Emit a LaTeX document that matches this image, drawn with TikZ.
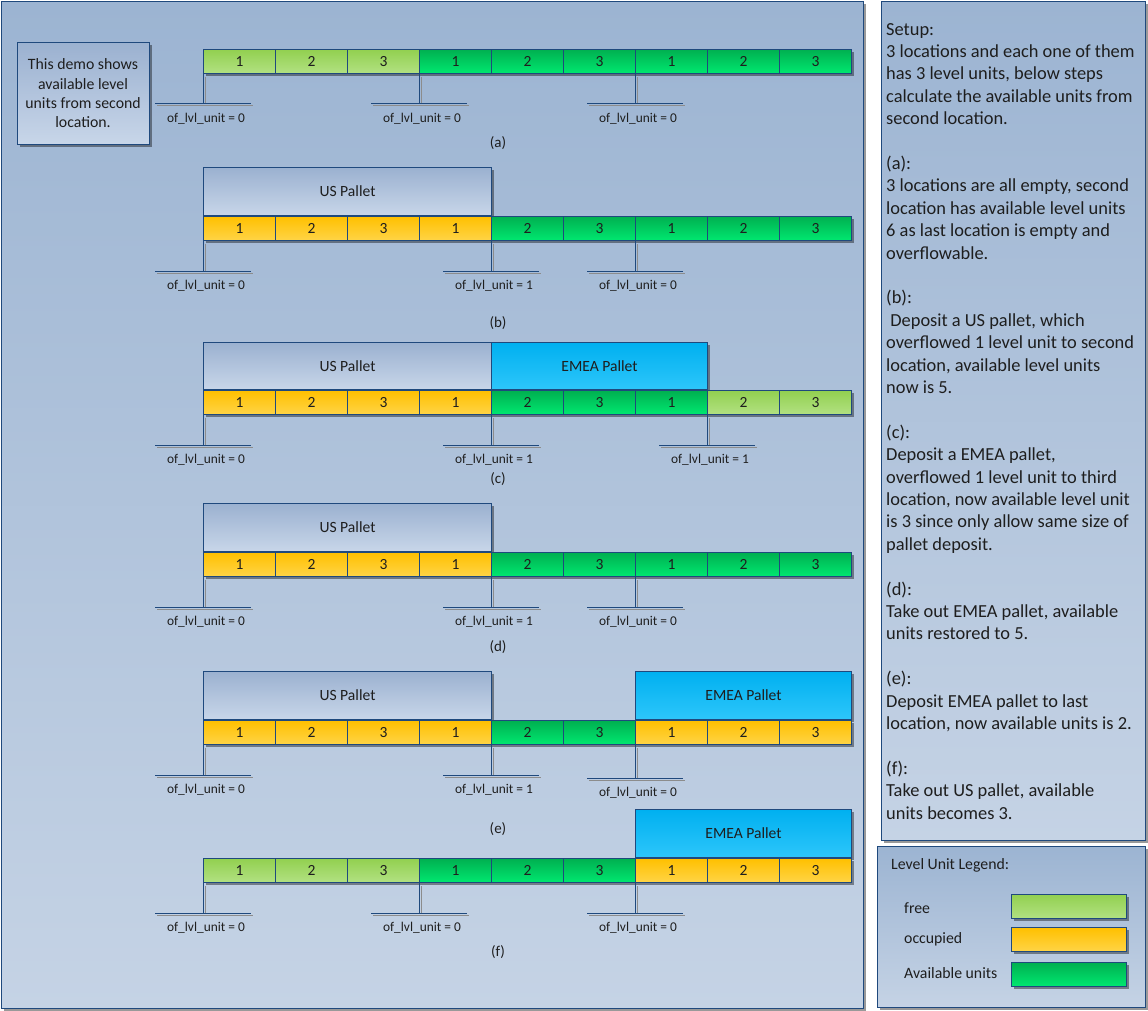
\documentclass[tikz,border=0pt]{standalone}
\usepackage{fontspec}
\setmainfont{Carlito}
\usepackage{tikz}
\usetikzlibrary{positioning, shadows, calc}
\usepackage{xcolor}
\definecolor{edge}{RGB}{31,73,125}
\definecolor{ink}{RGB}{30,30,30}
\definecolor{Ftop}{RGB}{146,208,80}
\definecolor{Fbot}{RGB}{178,225,130}
\definecolor{Atop}{RGB}{0,176,80}
\definecolor{Abot}{RGB}{0,232,112}
\definecolor{Otop}{RGB}{255,192,0}
\definecolor{Obot}{RGB}{255,212,70}
\definecolor{Etop}{RGB}{0,176,240}
\definecolor{Ebot}{RGB}{45,198,250}
\definecolor{Utop}{RGB}{155,177,208}
\definecolor{Ubot}{RGB}{200,214,233}
\definecolor{bgtop}{RGB}{156,180,210}
\definecolor{bgbot}{RGB}{197,211,229}

\begin{document}
\begin{tikzpicture}[
  x=1pt, y=-1pt,
  every node/.style={text=ink},
  sdw/.style={drop shadow={shadow xshift=2.5pt, shadow yshift=-2.5pt,
    fill=black, opacity=0.4}},
  panel/.style={draw=edge, line width=1.4pt, top color=bgtop, bottom color=bgbot,
    anchor=north west, inner sep=0pt, sdw},
  cell/.style={draw=edge, line width=1pt, minimum width=72pt, minimum height=24pt,
    inner sep=0pt, anchor=north west, font=\fontsize{15.5}{17}\selectfont, sdw},
  unit/.style={cell, top color=#1top, bottom color=#1bot},
  pallet/.style={draw=edge, line width=1pt, minimum height=48pt, inner sep=0pt,
    anchor=south west, font=\fontsize{15.6}{18}\selectfont, sdw},
  uspal/.style={pallet, minimum width=288pt, top color=Utop, bottom color=Ubot},
  emea/.style={pallet, minimum width=216pt, top color=Etop, bottom color=Ebot},
  mline/.style={draw=edge, line width=1pt},
  mshadow/.style={draw=black!45, line width=1pt},
  mlabel/.style={font=\fontsize{13.4}{15}\selectfont, inner sep=0pt},
  caption/.style={font=\fontsize{15}{17}\selectfont, inner sep=0pt},
  swatch/.style={draw=edge, line width=1pt, minimum width=115pt, minimum height=24pt,
    inner sep=0pt, anchor=north west, sdw},
  legtext/.style={font=\fontsize{15.8}{18}\selectfont, anchor=west, inner sep=0pt}
]
\useasboundingbox (0,0) rectangle (1148,1011);
\fill[white] (0,0) rectangle (1148,1011);

% panels
\node[panel, minimum width=862pt, minimum height=1007pt] (stage) at (1,1) {};
\node[panel, minimum width=264pt, minimum height=839pt] (notes) at (881,1) {};
\node[panel, minimum width=268pt, minimum height=161pt] (legend) at (877,846) {};

\node[draw=edge, line width=1pt, top color=Utop, bottom color=Ubot, sdw,
  minimum width=132pt, minimum height=102pt, inner sep=0pt, align=center,
  font=\fontsize{15.8}{19.3}\selectfont] (demo) at (83,93.5)
  {This demo shows\\available level\\units from second\\location.};

% pallets
\node[uspal] (pb) at (203,216) {US Pallet};
\node[uspal, minimum height=47pt] (pc) at (203,390) {US Pallet};
\node[emea, minimum height=47pt] (ec) at (491,390) {EMEA Pallet};
\node[uspal] (pd) at (203,552) {US Pallet};
\node[uspal] (pe) at (203,720) {US Pallet};
\node[emea] (ee) at (635,720) {EMEA Pallet};
\node[emea] (ef) at (635,858) {EMEA Pallet};

% level units
\foreach \r/\y/\cols in {a/49/{F,F,F,A,A,A,A,A,A}, b/216/{O,O,O,O,A,A,A,A,A},
    c/390/{O,O,O,O,A,A,A,F,F}, d/552/{O,O,O,O,A,A,A,A,A},
    e/720/{O,O,O,O,A,A,O,O,O}, f/858/{F,F,F,A,A,A,O,O,O}}{
  \foreach \c [count=\i] in \cols {
    \pgfmathtruncatemacro\lvl{mod(\i-1,3)+1}
    \node[unit=\c] (\r\i) at ({203+72*(\i-1)},\y) {\lvl};
  }
}

% overflow markers
\foreach \r/\k/\v/\dy in {a/1/0/0, a/4/0/0, a/7/0/0, b/1/0/0, b/5/1/0, b/7/0/0,
    c/1/0/0, c/5/1/0, c/8/1/0, d/1/0/0, d/5/1/0, d/7/0/0,
    e/1/0/0, e/5/1/0, e/7/0/3, f/1/0/0, f/4/0/0, f/7/0/0}{
  \coordinate (f\r\k) at ($(\r\k.south west)+(0,30+\dy)$);
  \draw[mshadow] ($(\r\k.south west)+(2,3)$) -- ($(f\r\k)+(2,0)$)
    ($(f\r\k)+(-46,2)$) -- ($(f\r\k)+(50,2)$);
  \draw[mline] (\r\k.south west) -- (f\r\k)
    ($(f\r\k)+(-48,0)$) -- ($(f\r\k)+(48,0)$);
  \node[mlabel] (l\r\k) at ($(f\r\k)+(3,15)$) {of\_lvl\_unit = \v};
}

\node[caption] (capa) at (498,143) {(a)};
\node[caption] (capb) at (498,323) {(b)};
\node[caption] (capc) at (498,479) {(c)};
\node[caption] (capd) at (498,647) {(d)};
\node[caption] (cape) at (498,829) {(e)};
\node[caption] (capf) at (498,952) {(f)};

% step notes
\node[anchor=north west, inner sep=0pt, align=left,
  font=\fontsize{18.4}{22.4}\selectfont] (steps) at (886,23)
  {Setup:\\3 locations and each one of them\\has 3 level units, below steps\\
   calculate the available units from\\second location.\\[22.4pt]
   (a):\\3 locations are all empty, second\\location has available level units\\
   6 as last location is empty and\\overflowable.\\[22.4pt]
   (b):\\\ Deposit a US pallet, which\\overflowed 1 level unit to second\\
   location, available level units\\now is 5.\\[22.4pt]
   (c):\\Deposit a EMEA pallet,\\overflowed 1 level unit to third\\
   location, now available level unit\\is 3 since only allow same size of\\
   pallet deposit.\\[22.4pt]
   (d):\\Take out EMEA pallet, available\\units restored to 5.\\[22.4pt]
   (e):\\Deposit EMEA pallet to last\\location, now available units is 2.\\[22.4pt]
   (f):\\Take out US pallet, available\\units becomes 3.};

% legend
\node[legtext] (legtitle) at (891,865) {Level Unit Legend:};
\node[swatch, top color=Ftop, bottom color=Fbot] (swfree) at (1011,894) {};
\node[swatch, top color=Otop, bottom color=Obot, below=8pt of swfree.south west,
  anchor=north west] (swocc) {};
\node[swatch, top color=Atop, bottom color=Abot, below=10pt of swocc.south west,
  anchor=north west] (swavail) {};
\node[legtext] (lgfree) at (904,908) {free};
\node[legtext] (lgocc) at (904,939) {occupied};
\node[legtext] (lgavail) at (904,973) {Available units};
\end{tikzpicture}
\end{document}
